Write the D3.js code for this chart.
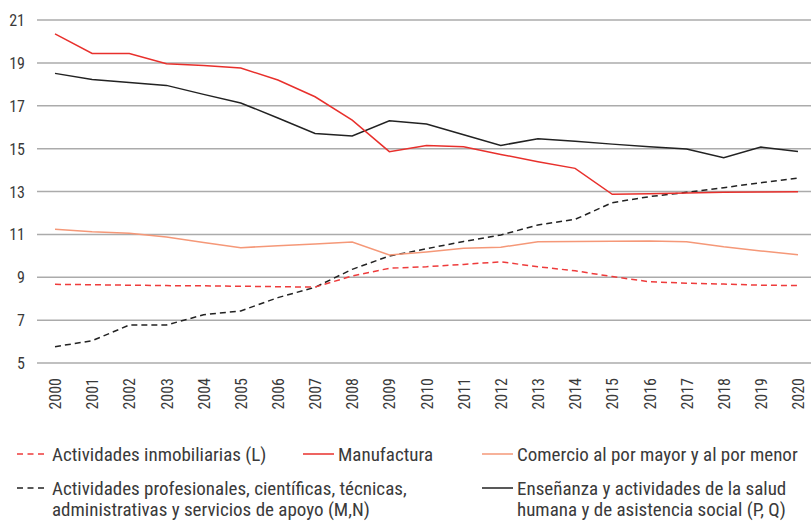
<!DOCTYPE html>
<html><head><meta charset="utf-8">
<script src="https://cdn.jsdelivr.net/npm/d3@7"></script>
<style>
html,body{margin:0;padding:0;background:#fff;}
svg text{font-family:"Liberation Sans Narrow","Roboto Condensed","DejaVu Sans Condensed",sans-serif;fill:#3a3a3a;}
</style></head>
<body><svg id="c" width="811" height="523"></svg>
<script>
const years = d3.range(2000, 2021);
const yTicks = [5, 7, 9, 11, 13, 15, 17, 19, 21];

const inmobiliarias = [8.67,8.65,8.63,8.61,8.60,8.58,8.56,8.54,9.06,9.42,9.49,9.60,9.72,9.49,9.30,9.03,8.79,8.72,8.68,8.63,8.61];
const manufactura   = [20.35,19.44,19.44,18.96,18.88,18.76,18.20,17.42,16.33,14.86,15.14,15.09,14.73,14.39,14.08,12.87,12.90,12.93,12.96,12.98,12.99];
const comercio      = [11.24,11.12,11.05,10.88,10.62,10.38,10.47,10.55,10.64,10.04,10.18,10.35,10.40,10.66,10.67,10.68,10.69,10.66,10.42,10.23,10.05];
const profesionales = [5.76,6.04,6.77,6.77,7.25,7.43,8.05,8.53,9.37,9.99,10.33,10.67,10.97,11.44,11.70,12.48,12.76,12.96,13.18,13.41,13.63];
const ensenanza     = [18.51,18.23,18.09,17.95,17.53,17.13,16.43,15.71,15.59,16.30,16.15,15.65,15.15,15.46,15.34,15.21,15.09,14.98,14.58,15.07,14.87];

const seriesNames = [
  ["Actividades inmobiliarias (L)"],
  ["Manufactura"],
  ["Comercio al por mayor y al por menor"],
  ["Actividades profesionales, científicas, técnicas,", "administrativas y servicios de apoyo (M,N)"],
  ["Enseñanza y actividades de la salud", "humana y de asistencia social (P, Q)"]
];
const seriesValues = [inmobiliarias, manufactura, comercio, profesionales, ensenanza];
const seriesColors = ["#ee3b3b", "#e8302c", "#f59878", "#222222", "#222222"];
const seriesDash = ["6,4", null, null, "6,4", null];

const svg = d3.select("#c");
const x = d3.scalePoint().domain(years).range([55, 798]);
const y = d3.scaleLinear().domain([5, 21]).range([363, 20]);

// gridlines
svg.append("g").selectAll("line").data(yTicks).join("line")
  .attr("x1", 37).attr("x2", 811)
  .attr("y1", d => y(d)).attr("y2", d => y(d))
  .attr("stroke", "#ababab").attr("stroke-width", 1.5);

// y axis labels
const yAxis = d3.axisLeft(y).tickValues(yTicks).tickSize(0).tickPadding(0);
const gy = svg.append("g").attr("transform", "translate(25,0)").call(yAxis);
gy.select(".domain").remove();
gy.attr("font-family", null);
gy.selectAll("text").attr("font-size", 16).attr("dy", "0.35em");

// x axis labels
const xAxis = d3.axisBottom(x).tickSize(0).tickPadding(0).tickFormat(d => String(d));
const gx = svg.append("g").attr("transform", "translate(0,378)").call(xAxis);
gx.select(".domain").remove();
gx.attr("font-family", null);
gx.selectAll("text")
  .attr("font-size", 16)
  .attr("transform", "rotate(-90)")
  .attr("text-anchor", "end")
  .attr("x", 0).attr("y", 0).attr("dy", "0.35em");

// lines
const line = d3.line().x((d, i) => x(years[i])).y(d => y(d));
const order = [3, 2, 0, 4, 1];
order.forEach(k => {
  svg.append("path")
    .datum(seriesValues[k])
    .attr("fill", "none")
    .attr("stroke", seriesColors[k])
    .attr("stroke-width", 1.5)
    .attr("stroke-dasharray", seriesDash[k])
    .attr("d", line);
});

// legend
const legendPos = [
  {x: 17, y: 454}, {x: 303, y: 454}, {x: 482, y: 454},
  {x: 17, y: 488}, {x: 482, y: 488}
];
const lg = svg.append("g").selectAll("g").data(seriesNames).join("g")
  .attr("transform", (d, i) => `translate(${legendPos[i].x},${legendPos[i].y})`);
lg.append("line")
  .attr("x1", 0).attr("x2", 31).attr("y1", 0).attr("y2", 0)
  .attr("stroke", (d, i) => seriesColors[i])
  .attr("stroke-width", 1.5)
  .attr("stroke-dasharray", (d, i) => seriesDash[i] ? "6,4.5" : null);
lg.append("text")
  .attr("x", 35).attr("y", 0)
  .attr("font-size", 19)
  .selectAll("tspan").data(d => d).join("tspan")
  .attr("x", 35)
  .attr("dy", (d, j) => j === 0 ? "0.35em" : "1.13em")
  .text(d => d);
</script></body></html>
